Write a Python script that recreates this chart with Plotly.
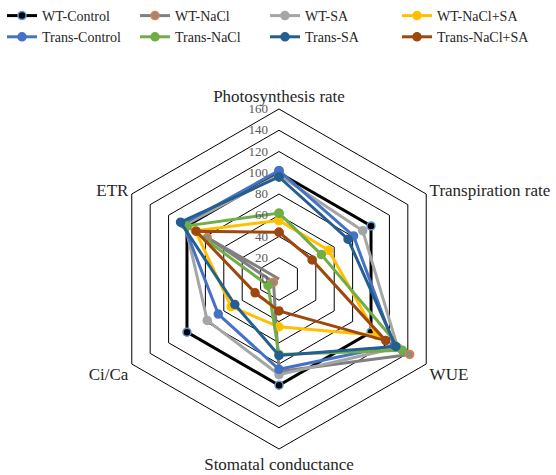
import plotly.graph_objects as go

# Radar axes, clockwise from the top
categories = ["Photosynthesis rate", "Transpiration rate", "WUE",
              "Stomatal conductance", "Ci/Ca", "ETR"]

# Relative values (WT-Control = 100); None = no value recorded
wt_control = [100, 100, 100, 100, 100, 100]
wt_nacl = [0, None, 142, 87, 6, 78]
wt_sa = [98, 91, 129, 90, 78, 102]
wt_nacl_sa = [55, 54, 106, 45, 52, 91]
trans_control = [102, 81, 125, 85, 66, 104]
trans_nacl = [62, 46, 134, 71, 12, 100]
trans_sa = [96, 75, 127, 72, 48, 107]
trans_nacl_sa = [44, 36, 116, 30, 26, 90]

radial_ticks = [0, 20, 40, 60, 80, 100, 120, 140, 160]

series = [
    ("WT-Control", wt_control, "#000000", "#000000", "#5B9BD5"),
    ("WT-NaCl", wt_nacl, "#808080", "#8C8C8C", "#ED7D31"),
    ("WT-SA", wt_sa, "#A5A5A5", "#A5A5A5", "#A5A5A5"),
    ("WT-NaCl+SA", wt_nacl_sa, "#FFC000", "#FFC000", "#FFC000"),
    ("Trans-Control", trans_control, "#4472C4", "#4472C4", "#4472C4"),
    ("Trans-NaCl", trans_nacl, "#70AD47", "#70AD47", "#70AD47"),
    ("Trans-SA", trans_sa, "#255E91", "#255E91", "#255E91"),
    ("Trans-NaCl+SA", trans_nacl_sa, "#9E480E", "#9E480E", "#9E480E"),
]

# one small vertical legend per legend column
legend_ids = ["legend", "legend2", "legend3", "legend4"]
legend_x_px = [2, 135, 265, 397]

fig = go.Figure()
for i, (name, vals, line_col, fill_col, edge_col) in enumerate(series):
    fig.add_trace(go.Scatterpolar(
        r=vals + vals[:1],
        theta=categories + categories[:1],
        name=name,
        legend=legend_ids[i % 4],
        mode="lines+markers",
        connectgaps=False,
        line=dict(color=line_col, width=3),
        marker=dict(size=8, color=fill_col,
                    line=dict(color=edge_col, width=1.5)),
    ))

serif = "Liberation Serif, Times New Roman, serif"

legend_layout = {}
for lid, xp in zip(legend_ids, legend_x_px):
    legend_layout[lid] = dict(
        orientation="v",
        x=xp / 556, xanchor="left",
        y=1.0, yanchor="top",
        bgcolor="rgba(0,0,0,0)",
        font=dict(family=serif, size=14, color="#262626"),
        tracegroupgap=0,
        itemwidth=30,
    )

fig.update_layout(
    width=556, height=475,
    margin=dict(l=0, r=0, t=0, b=0),
    paper_bgcolor="white",
    showlegend=True,
    **legend_layout,
    polar=dict(
        domain=dict(x=[109 / 556, 449 / 556], y=[26 / 475, 366 / 475]),
        bgcolor="white",
        gridshape="linear",
        angularaxis=dict(
            direction="clockwise",
            rotation=90,
            showgrid=False,
            showline=True,
            linecolor="black",
            linewidth=1,
            ticks="",
            tickfont=dict(family=serif, size=17, color="#262626"),
        ),
        radialaxis=dict(
            range=[0, 160],
            tickvals=radial_ticks,
            angle=90,
            side="counterclockwise",
            tickangle=90,
            showline=False,
            ticks="outside",
            ticklen=6,
            tickcolor="rgba(0,0,0,0)",
            gridcolor="black",
            gridwidth=1,
            tickfont=dict(family=serif, size=13, color="#595959"),
        ),
    ),
)

fig.write_html("out.html")
